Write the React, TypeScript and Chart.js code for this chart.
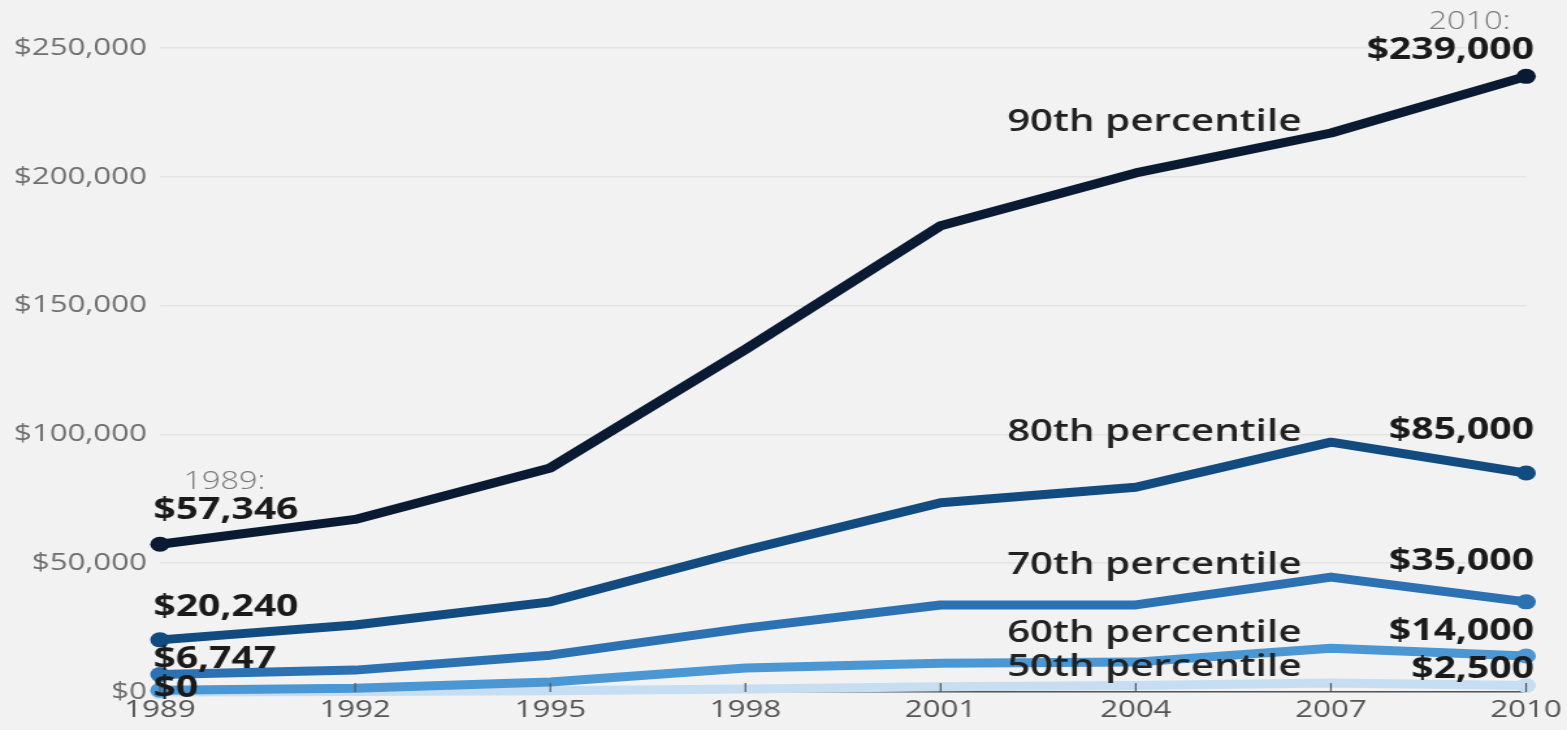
import React, { useEffect, useRef } from 'react';
import { Chart, registerables } from 'chart.js';

Chart.register(...registerables);

// ---- data ----
const years = ['1989', '1992', '1995', '1998', '2001', '2004', '2007', '2010'];
const p90 = [57346, 67000, 87000, 133000, 181000, 201500, 217000, 239000];
const p80 = [20240, 26000, 35000, 55000, 73500, 79500, 97000, 85000];
const p70 = [6747, 8500, 14300, 24800, 33800, 33800, 44600, 35000];
const p60 = [700, 1500, 3900, 9300, 11200, 11600, 17000, 14000];
const p50 = [0, 200, 500, 1200, 2000, 2500, 3500, 2500];
const seriesNames = ['90th percentile', '80th percentile', '70th percentile', '60th percentile', '50th percentile'];
const yTickValues = [0, 50000, 100000, 150000, 200000, 250000];

const seriesData = [p90, p80, p70, p60, p50];
const seriesColors = ['#0b1a33', '#124b7f', '#2c72b2', '#4a97d4', '#c7def2'];

const W = 1567;
const H = 730;
const STRETCH = 1.3;
const IW = Math.round(W / STRETCH);
const FONT = '"Open Sans", "DejaVu Sans", sans-serif';

const fmt = (v: number) => '$' + v.toLocaleString('en-US');

// label placement (pixel offsets from the anchoring data point)
const endLabels = [
  { nameDy: 46, valDy: -26 },
  { nameDy: -41, valDy: -43 },
  { nameDy: -37, valDy: -40 },
  { nameDy: -23, valDy: -24 },
  { nameDy: -18, valDy: -16 },
];
const startLabels = [
  { s: 0, dy: -34 },
  { s: 1, dy: -32 },
  { s: 2, dy: -15 },
  { s: 4, dy: -4 },
];

const bgPlugin = {
  id: 'bg',
  beforeDraw(chart: any) {
    const ctx = chart.ctx;
    ctx.save();
    ctx.fillStyle = '#f2f2f2';
    ctx.fillRect(0, 0, chart.width, chart.height);
    ctx.restore();
  },
};

const ticksPlugin = {
  id: 'innerTicks',
  afterDatasetsDraw(chart: any) {
    const ctx = chart.ctx;
    const xs = chart.scales.x;
    const bottom = chart.chartArea.bottom;
    ctx.save();
    ctx.strokeStyle = '#555';
    ctx.lineWidth = 1.2;
    years.forEach((_, i) => {
      const x = xs.getPixelForValue(i);
      ctx.beginPath();
      ctx.moveTo(x, bottom);
      ctx.lineTo(x, bottom - 9);
      ctx.stroke();
    });
    ctx.restore();
  },
};

const labelsPlugin = {
  id: 'labels',
  afterDatasetsDraw(chart: any) {
    const ctx = chart.ctx;
    const xs = chart.scales.x;
    const ys = chart.scales.y;
    const last = years.length - 1;
    ctx.save();
    ctx.textBaseline = 'middle';

    // series names and end values
    seriesData.forEach((d, s) => {
      const yEnd = ys.getPixelForValue(d[last]);
      ctx.font = `600 31px ${FONT}`;
      ctx.fillStyle = '#222';
      ctx.textAlign = 'left';
      ctx.fillText(seriesNames[s], xs.getPixelForValue(5) - 99, yEnd + endLabels[s].nameDy);
      ctx.font = `700 30px ${FONT}`;
      ctx.fillStyle = '#1a1a1a';
      ctx.textAlign = 'right';
      ctx.fillText(fmt(d[last]), xs.getPixelForValue(last) + 6, yEnd + endLabels[s].valDy);
    });

    // start values
    startLabels.forEach(({ s, dy }) => {
      const d = seriesData[s];
      ctx.font = `700 30px ${FONT}`;
      ctx.fillStyle = '#1a1a1a';
      ctx.textAlign = 'left';
      ctx.fillText(fmt(d[0]), xs.getPixelForValue(0) - 5, ys.getPixelForValue(d[0]) + dy);
    });

    // year notes
    ctx.font = `300 25px ${FONT}`;
    ctx.fillStyle = '#777';
    ctx.textAlign = 'left';
    ctx.fillText(years[0] + ':', xs.getPixelForValue(0) + 18, ys.getPixelForValue(p90[0]) - 62);
    ctx.textAlign = 'right';
    ctx.fillText(years[last] + ':', xs.getPixelForValue(last) - 12, ys.getPixelForValue(p90[last]) - 54);
    ctx.restore();
  },
};

export default function App() {
  const ref = useRef<HTMLCanvasElement | null>(null);

  useEffect(() => {
    document.body.style.margin = '0';
    const canvas = ref.current!;
    const endRadius = (n: number) => years.map((_, i) => (i === 0 || i === n - 1 ? 7.5 : 0));
    const chart = new Chart(canvas, {
      type: 'line',
      data: {
        labels: years,
        datasets: seriesData.map((d, s) => ({
          label: seriesNames[s],
          data: d,
          borderColor: seriesColors[s],
          backgroundColor: seriesColors[s],
          pointBackgroundColor: seriesColors[s],
          pointBorderWidth: 0,
          pointRadius: endRadius(years.length),
          borderWidth: 9,
          tension: 0,
          borderJoinStyle: 'round' as const,
          borderCapStyle: 'round' as const,
          fill: false,
          clip: false as any,
        })),
      },
      options: {
        responsive: false,
        maintainAspectRatio: false,
        devicePixelRatio: 1,
        animation: false,
        layout: { padding: { left: 0, right: 26, top: 48, bottom: 0 } },
        plugins: { legend: { display: false }, tooltip: { enabled: false } },
        scales: {
          x: {
            type: 'category',
            offset: false,
            afterFit: (s: any) => { s.height = 38; },
            grid: { display: true, drawOnChartArea: false, drawTicks: false },
            border: { display: true, color: '#555', width: 1.5 },
            ticks: { color: '#555', font: { family: FONT, size: 24 }, padding: 4, maxRotation: 0, autoSkip: false },
          },
          y: {
            min: 0,
            max: 250000,
            afterFit: (s: any) => { s.width = 123; },
            afterBuildTicks: (s: any) => { s.ticks = yTickValues.map((v) => ({ value: v })); },
            grid: { color: '#e4e4e4', lineWidth: 1.5, drawTicks: false },
            border: { display: false },
            ticks: {
              color: '#6e6e6e',
              font: { family: FONT, size: 24 },
              padding: 10,
              callback: (v: any) => fmt(Number(v)),
            },
          },
        },
      },
      plugins: [bgPlugin, ticksPlugin, labelsPlugin],
    } as any);
    return () => chart.destroy();
  }, []);

  return (
    <div style={{ width: W, height: H, background: '#f2f2f2' }}>
      <canvas
        ref={ref}
        width={IW}
        height={H}
        style={{ width: W + 'px', height: H + 'px', display: 'block' }}
      />
    </div>
  );
}
